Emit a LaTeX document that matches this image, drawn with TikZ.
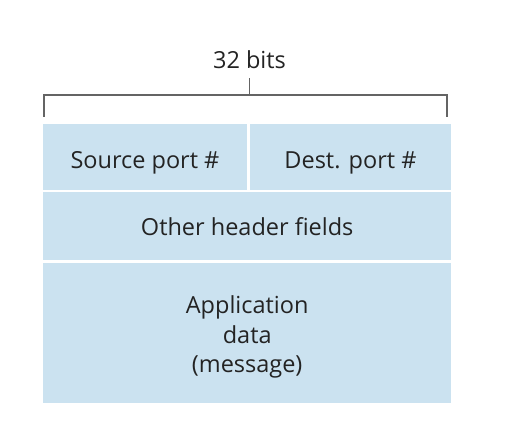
\documentclass[tikz,border=0pt]{standalone}
\usepackage{fontspec}
\setmainfont{Open Sans}
\usepackage{tikz}

\definecolor{fieldblue}{RGB}{203,226,240}
\definecolor{bracketgray}{RGB}{100,100,100}
\definecolor{labelgray}{RGB}{35,35,35}

\tikzset{
    field/.style={fill=fieldblue, inner sep=0pt, anchor=north west},
    fieldtext/.style={align=center, text=labelgray, yshift=-3pt,
        font=\fontsize{23.5}{29.5}\selectfont},
    bracket/.style={draw=bracketgray, line width=1.1pt}
}

\begin{document}
\begin{tikzpicture}[x=1pt, y=-1pt]

\useasboundingbox (0,0) rectangle (531,435);

% segment fields
    \node[field, minimum width=203.5pt, minimum height=65.5pt,
        label={[fieldtext, yshift=-3pt]center:Source port \#}] (src) at (43,124) {};
    \node[field, minimum width=201.5pt, minimum height=65.5pt,
        label={[fieldtext, yshift=-3pt]center:Dest. port \#}] (dst) at (249.5,124) {};
    \node[field, minimum width=408pt, minimum height=68pt,
        label={[fieldtext, yshift=3pt]center:Other header fields}] (hdr) at (43,192) {};
    \node[field, minimum width=408pt, minimum height=140pt,
        label={[fieldtext, yshift=-1pt]center:Application\\data\\(message)}] (app) at (43,263) {};

% width bracket
    \coordinate (bl) at (44,117);
    \coordinate (br) at (447,117);
    \node[text=labelgray, font=\fontsize{23.5}{29.5}\selectfont] (width) at (249.5,60) {32 bits};
    \draw[bracket] (bl) -- ++(0,-22) -| (br);
    \draw[bracket] (width.south |- 0,95) -- (width.south |- 0,78);

\end{tikzpicture}
\end{document}
